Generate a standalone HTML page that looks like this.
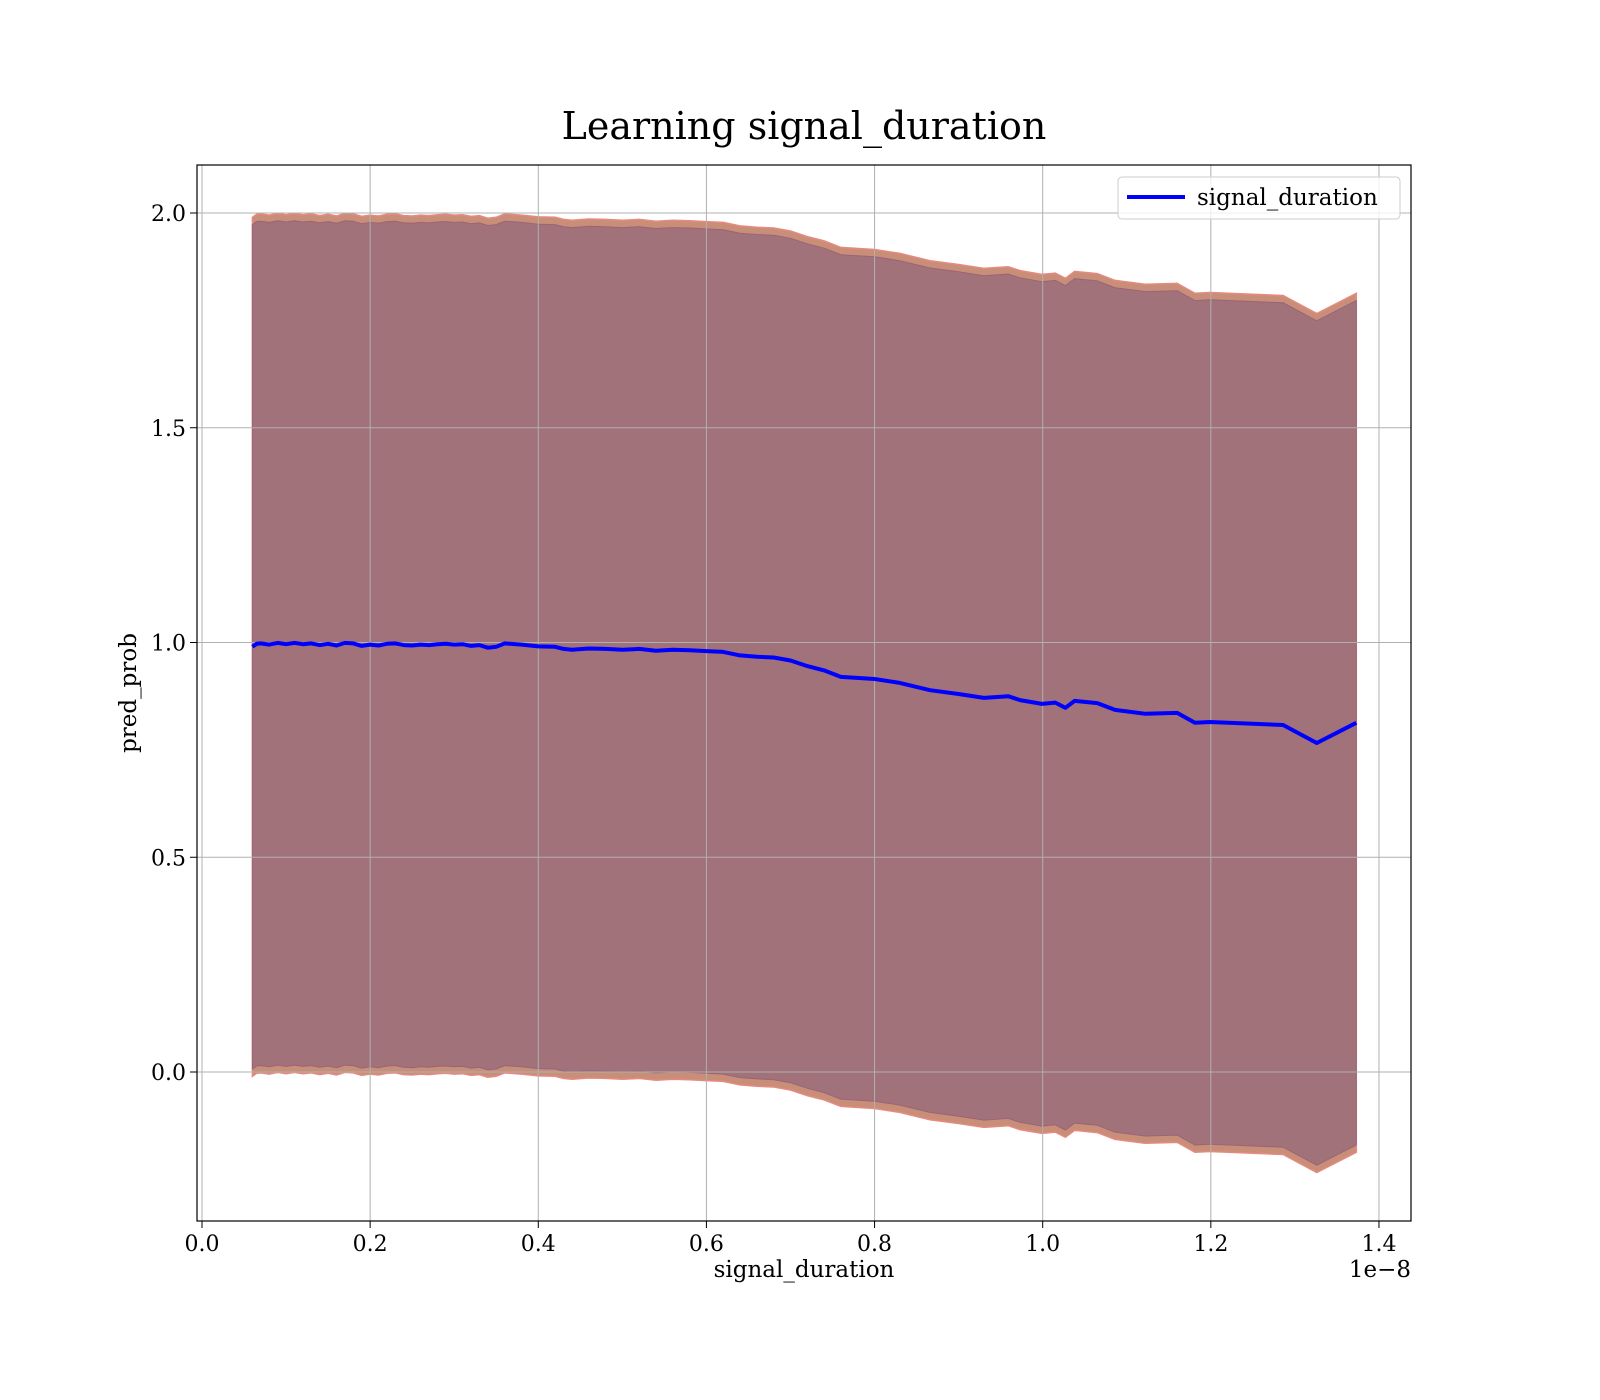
<!DOCTYPE html>
<html><head><meta charset="utf-8"><style>
html,body{margin:0;padding:0;background:#fff;}
svg{display:block;font-family:"DejaVu Serif","Liberation Serif",serif;}
</style></head><body>
<svg id="chart" width="1600" height="1400" viewBox="0 0 1600 1400">
<rect width="1600" height="1400" fill="#fff"/>
<text x="804" y="139" font-size="38" text-anchor="middle" fill="#000">Learning signal_duration</text>
<g id="plot"></g>
<rect x="197" y="165" width="1214" height="1056" fill="none" stroke="#000" stroke-width="1.2"/>
<g id="ticks"></g>
<text x="804" y="1277" font-size="23" text-anchor="middle">signal_duration</text>
<text x="1411" y="1277" font-size="23" text-anchor="end">1e−8</text>
<text transform="translate(136,693) rotate(-90)" font-size="23" text-anchor="middle">pred_prob</text>
<g>
<rect x="1118" y="177" width="282" height="42" rx="4" fill="#fff" fill-opacity="0.8" stroke="#ccc"/>
<line x1="1127" y1="197" x2="1185" y2="197" stroke="#0000ff" stroke-width="4"/>
<text x="1197" y="205" font-size="23">signal_duration</text>
</g>
</svg>
<script>
const xs = [0.06,0.065,0.07,0.08,0.09,0.10,0.11,0.12,0.13,0.14,0.15,0.16,0.17,0.18,0.19,0.20,0.21,0.22,0.23,0.24,0.25,0.26,0.27,0.28,0.29,0.30,0.31,0.32,0.33,0.34,0.35,0.36,0.38,0.40,0.42,0.43,0.44,0.46,0.48,0.50,0.52,0.54,0.56,0.58,0.60,0.62,0.64,0.66,0.68,0.70,0.72,0.74,0.76,0.80,0.83,0.866,0.90,0.93,0.959,0.973,0.999,1.015,1.027,1.038,1.065,1.086,1.122,1.160,1.181,1.199,1.286,1.326,1.373];
const means = [0.99,0.997,0.998,0.995,0.999,0.996,0.999,0.996,0.998,0.994,0.997,0.993,0.999,0.998,0.992,0.995,0.993,0.997,0.998,0.994,0.993,0.995,0.994,0.996,0.997,0.995,0.996,0.992,0.994,0.988,0.99,0.998,0.995,0.991,0.99,0.985,0.983,0.986,0.985,0.983,0.985,0.981,0.983,0.982,0.98,0.978,0.97,0.967,0.965,0.958,0.945,0.935,0.92,0.915,0.906,0.889,0.88,0.871,0.875,0.866,0.857,0.86,0.848,0.864,0.859,0.843,0.834,0.836,0.813,0.815,0.808,0.766,0.813];
const outerSpread = 1.0;
const innerSpread = 0.983;
const xTicks = ["0.0","0.2","0.4","0.6","0.8","1.0","1.2","1.4"];
const xTickVals = [0,0.2,0.4,0.6,0.8,1.0,1.2,1.4];
const yTicks = ["0.0","0.5","1.0","1.5","2.0"];
const yTickVals = [0,0.5,1.0,1.5,2.0];

const NS="http://www.w3.org/2000/svg";
const X = v => 202 + v*840.7;
const Y = v => 1072 - v*429.5;
function mk(tag, attrs, parent){const e=document.createElementNS(NS,tag);for(const k in attrs)e.setAttribute(k,attrs[k]);parent.appendChild(e);return e;}
const plot=document.getElementById('plot'), ticks=document.getElementById('ticks');
function band(s){
  let d='M'+xs.map((x,i)=>X(x).toFixed(1)+','+Y(means[i]+s).toFixed(1)).join('L');
  for(let i=xs.length-1;i>=0;i--) d+='L'+X(xs[i]).toFixed(1)+','+Y(means[i]-s).toFixed(1);
  return d+'Z';
}
const b1=mk('path',{d:band(outerSpread),fill:'#c98e78',stroke:'#e58a80','stroke-width':1.5},plot);


const b2=mk('path',{d:band(innerSpread),fill:'#a1727a',stroke:'#9a6478','stroke-width':1},plot);


xTickVals.forEach((v,i)=>{
  const g=mk('line',{x1:X(v),x2:X(v),y1:165,y2:1221,stroke:'#b0b0b0','stroke-width':1},plot);
  
  
  const t=mk('line',{x1:X(v),x2:X(v),y1:1221,y2:1228,stroke:'#000','stroke-width':1},ticks);
  
  
  const l=mk('text',{x:X(v),y:1251,'font-size':22,'text-anchor':'middle'},ticks);
  l.textContent=xTicks[i];
  
  
});
yTickVals.forEach((v,i)=>{
  const g=mk('line',{x1:197,x2:1411,y1:Y(v),y2:Y(v),stroke:'#b0b0b0','stroke-width':1},plot);
  
  
  const t=mk('line',{x1:190,x2:197,y1:Y(v),y2:Y(v),stroke:'#000','stroke-width':1},ticks);
  
  
  const l=mk('text',{x:186,y:Y(v)+8,'font-size':22,'text-anchor':'end'},ticks);
  l.textContent=yTicks[i];
  
  
});
const ln=mk('polyline',{points:xs.map((x,i)=>X(x).toFixed(1)+','+Y(means[i]).toFixed(1)).join(' '),fill:'none',stroke:'#0000ff','stroke-width':4,'stroke-linejoin':'round'},plot);


</script>
</body></html>
